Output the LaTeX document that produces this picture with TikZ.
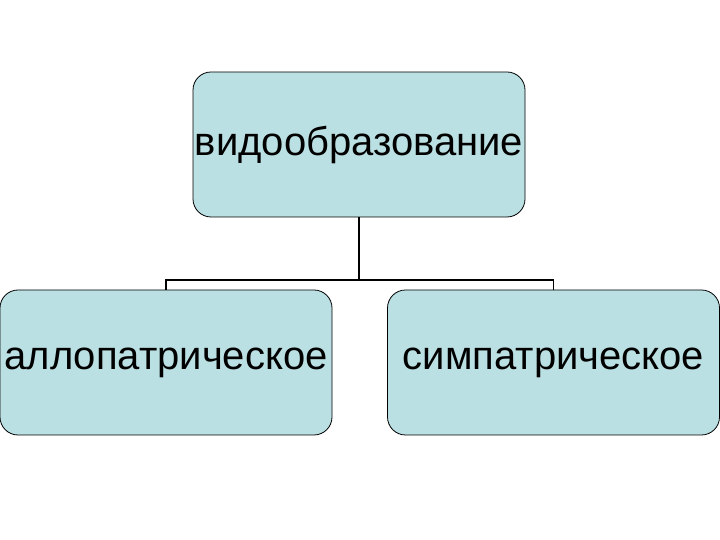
\documentclass[tikz,border=0pt]{standalone}
\usepackage{fontspec}
\setmainfont{Liberation Sans}
\definecolor{boxfill}{RGB}{187,224,227}
\begin{document}
\begin{tikzpicture}[x=1pt,y=1pt,
  box/.style={draw=black,line width=0.8pt,fill=boxfill,rounded corners=18pt,minimum width=332pt,minimum height=145pt,inner sep=0pt,font=\fontsize{40}{44}\selectfont},
  conn/.style={draw=black,line width=1.2pt}]
\useasboundingbox (0,0) rectangle (720,540);
\node[box] (top) at (359,395.5) {видообразование};
\node[box] (left) at (166,177.5) {аллопатрическое};
\node[box] (right) at (553.5,177.5) {симпатрическое};
\coordinate (j) at (359,260);
\draw[conn] (top.south) -- (j);
\draw[conn] (left.north) -- (left.north |- j) -- (right.north |- j) -- (right.north);
\end{tikzpicture}
\end{document}
